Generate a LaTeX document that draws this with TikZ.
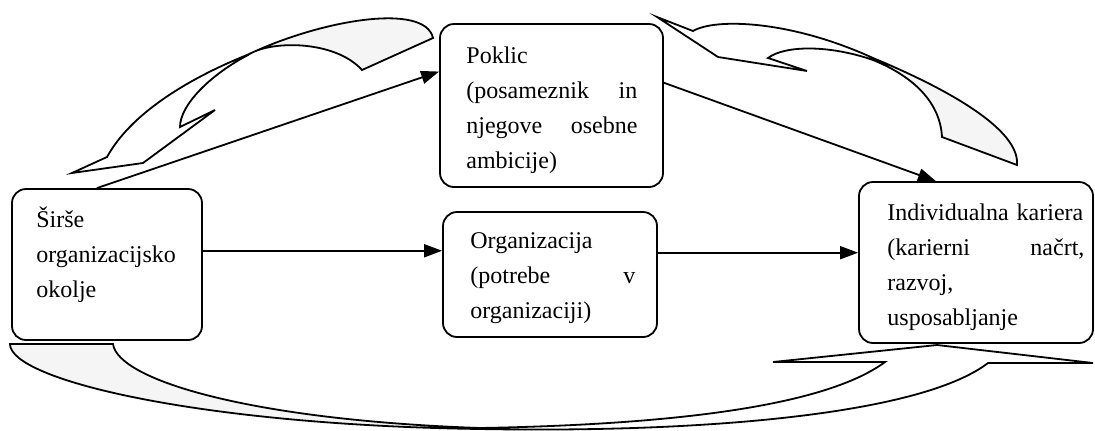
\documentclass[tikz,border=0pt]{standalone}
\usepackage{fontspec}
\setmainfont{Liberation Serif}
\usetikzlibrary{arrows.meta,calc}
\begin{document}
\begin{tikzpicture}[x=0.5pt,y=-0.5pt,
  box/.style={draw,rounded corners=7pt,line width=0.9pt,inner sep=0pt},
  txt/.style={anchor=base west,inner sep=0pt,align=left,font=\fontsize{12}{17.5}\selectfont},
  arr/.style={line width=0.9pt,-{Triangle[length=9pt,width=6.5pt]}},
  ribbon/.style={draw,line width=0.9pt,line join=miter},
  back/.style={fill=black!4}]
\useasboundingbox (0,0) rectangle (1095,430);

% boxes
\node[box,minimum width=95pt,minimum height=75.5pt] (sir) at (107,264.5) {};
\node[box,minimum width=111.5pt,minimum height=81.5pt] (pok) at (551.5,105.5) {};
\node[box,minimum width=107pt,minimum height=62.5pt] (org) at (550,274.5) {};
\node[box,minimum width=117pt,minimum height=80.5pt] (ind) at (976,262.5) {};

% texts
\node[txt,text width=90pt] (sirT) at (36,227) {Širše\\organizacijsko\\okolje};
\node[txt,text width=85.5pt] (pokT) at (466,63) {Poklic\\(posameznik\hfill in\\njegove\hfill osebne\\ambicije)};
\node[txt,text width=82.5pt] (orgT) at (470,248) {Organizacija\\(potrebe\hfill v\\organizaciji)};
\node[txt,text width=98.5pt] (indT) at (887,220) {\mbox{Individualna kariera}\\(karierni\hfill načrt,\\razvoj,\\usposabljanje};

% straight connectors
\draw[arr] ($(sir.north west)!0.447!(sir.north east)$) -- ($(pok.north west)!0.294!(pok.south west)$);
\draw[arr] ($(sir.north east)!0.41!(sir.south east)$) coordinate (a1) -- (a1 -| org.west);
\draw[arr] ($(org.north east)!0.328!(org.south east)$) coordinate (a2) -- (a2 -| ind.west);
\draw[arr] ($(pok.north east)!0.362!(pok.south east)$) -- ($(ind.north west)!0.33!(ind.north east)$);

% top-left curved block arrow (Poklic -> Sirse)
\fill[back] (247,55) .. controls (320,20) and (425,2) .. (433,38) -- (362,70)
  .. controls (335,40) and (270,40) .. (248,55) -- cycle;
\draw[ribbon] (72,173) -- (107,157) .. controls (130,115) and (185,80) .. (247,55)
  .. controls (320,20) and (425,2) .. (433,38) -- (362,70)
  .. controls (335,40) and (270,40) .. (248,55)
  .. controls (210,75) and (180,105) .. (180,127) -- (215,110) -- (143,163) -- cycle;

% top-right curved block arrow (Individualna kariera -> Poklic)
\fill[back] (873,58) .. controls (950,90) and (1020,130) .. (1017,165) -- (942,137)
  .. controls (940,100) and (910,75) .. (873,60) -- cycle;
\draw[ribbon] (657,17) -- (693,31) .. controls (715,18) and (790,20) .. (873,58)
  .. controls (950,90) and (1020,130) .. (1017,165) -- (942,137)
  .. controls (940,100) and (910,75) .. (873,60)
  .. controls (830,45) and (785,45) .. (768,58) -- (807,71) -- (718,57) -- cycle;

% bottom curved block arrow (Sirse -> Individualna kariera)
\fill[back] (10,344) -- (113,344) .. controls (118,380) and (250,420) .. (480,428)
  .. controls (200,425) and (10,380) .. (10,344) -- cycle;
\draw[ribbon] (10,344) -- (113,344) .. controls (118,380) and (250,420) .. (480,428)
  .. controls (650,425) and (820,410) .. (885,362) -- (773,362) -- (937,345)
  -- (1093,363) -- (988,363) .. controls (920,415) and (700,433) .. (480,429)
  .. controls (200,425) and (10,380) .. (10,344) -- cycle;
\end{tikzpicture}
\end{document}
